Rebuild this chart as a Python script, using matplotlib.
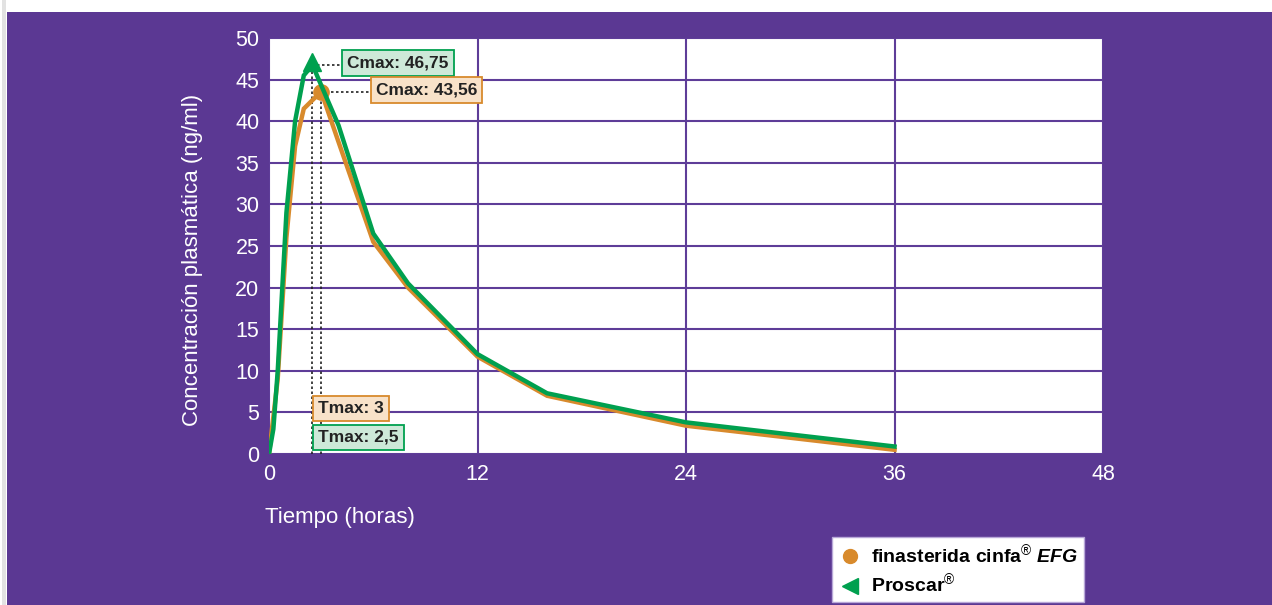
import matplotlib
matplotlib.use('Agg')
import matplotlib.pyplot as plt
from matplotlib.lines import Line2D

plt.rcParams['font.family'] = ['Liberation Sans', 'DejaVu Sans']
plt.rcParams['mathtext.fontset'] = 'custom'
plt.rcParams['mathtext.rm'] = 'Liberation Sans'
plt.rcParams['mathtext.it'] = 'Liberation Sans:italic:bold'

# datos (horas, ng/ml)
t_cinfa = [0, 0.5, 1, 1.5, 2, 3, 4, 6, 8, 12, 16, 24, 36]
c_cinfa = [0, 9, 26, 37, 41.5, 43.56, 37.5, 25.5, 20, 11.7, 7, 3.4, 0.5]
t_proscar = [0, 0.25, 0.5, 1, 1.5, 2, 2.5, 4, 6, 8, 12, 16, 24, 36]
c_proscar = [0, 3, 10, 29, 40, 45.5, 46.75, 39.5, 26.5, 20.5, 12, 7.3, 3.8, 0.9]

tmax_cinfa, cmax_cinfa = 3, 43.56
tmax_proscar, cmax_proscar = 2.5, 46.75

x_ticks = [0, 12, 24, 36, 48]
y_ticks = [0, 5, 10, 15, 20, 25, 30, 35, 40, 45, 50]

purple = '#5b3893'
orange = '#d88a2c'
green = '#00a04f'

fig = plt.figure(figsize=(12.72, 6.05), dpi=100)
fig.patch.set_facecolor('white')
fig.add_artist(plt.Rectangle((7 / 1272, 0), 1, 1 - 12 / 605, transform=fig.transFigure,
                             facecolor=purple, edgecolor='none', zorder=-10))
fig.add_artist(plt.Rectangle((2 / 1272, 0), 4 / 1272, 1, transform=fig.transFigure,
                             facecolor='#e2e2e2', edgecolor='none', zorder=-10))

ax = fig.add_axes([0.2115, 0.2496, 0.6557, 0.6876])
ax.set_facecolor('white')
ax.set_xlim(0, 48)
ax.set_ylim(0, 50)
ax.set_xticks(x_ticks)
ax.set_yticks(y_ticks)
for s in ax.spines.values():
    s.set_visible(False)
ax.tick_params(length=0, colors='white', labelsize=15.5, pad=7)
ax.grid(True, color='#5e3d98', linewidth=1.5)
ax.set_axisbelow(True)

# dotted guides
dot = dict(ls=(0, (1.5, 1.5)), color='#222222', lw=1.2, zorder=2)
ax.plot([tmax_proscar, tmax_proscar], [0, cmax_proscar], **dot)
ax.plot([tmax_cinfa, tmax_cinfa], [0, cmax_cinfa], **dot)
ax.plot([tmax_proscar, 4.2], [cmax_proscar, cmax_proscar], **dot)
ax.plot([tmax_cinfa, 5.9], [cmax_cinfa, cmax_cinfa], **dot)

ax.plot(t_cinfa, c_cinfa, color=orange, lw=3.2, zorder=3, solid_joinstyle='miter')
ax.plot([tmax_cinfa], [cmax_cinfa], marker='o', ms=11, color=orange, zorder=4)
ax.plot(t_proscar, c_proscar, color=green, lw=3.2, zorder=5, solid_joinstyle='miter')
ax.plot([tmax_proscar], [cmax_proscar + 0.4], marker='^', ms=13, color=green, zorder=6)

box_kw = dict(fontsize=12.5, fontweight='bold', color='#222222', va='center', ha='left', zorder=7)
ax.text(4.5, 47.0, 'Cmax: 46,75', bbox=dict(boxstyle='square,pad=0.3', fc='#cde9d8', ec=green, lw=1.3), **box_kw)
ax.text(6.15, 43.75, 'Cmax: 43,56', bbox=dict(boxstyle='square,pad=0.3', fc='#f8e2c9', ec=orange, lw=1.3), **box_kw)
ax.text(2.82, 5.5, 'Tmax: 3', bbox=dict(boxstyle='square,pad=0.3', fc='#f8e2c9', ec=orange, lw=1.3), **box_kw)
ax.text(2.82, 2.0, 'Tmax: 2,5', bbox=dict(boxstyle='square,pad=0.3', fc='#cde9d8', ec=green, lw=1.3), **box_kw)

ax.set_ylabel('Concentración plasmática (ng/ml)', color='white', fontsize=16)
ax.yaxis.set_label_coords(-0.079, 0.466)
fig.text(265 / 1272, 1 - 518 / 605, 'Tiempo (horas)', color='white', fontsize=16, ha='left', va='center')

handles = [Line2D([], [], ls='none', marker='o', ms=10, color=orange),
           Line2D([], [], ls='none', marker='<', ms=11, color=green)]
labels = [r'finasterida cinfa$^{\mathrm{®}}$ $\mathit{EFG}$', r'Proscar$^{\mathrm{®}}$']
leg = fig.legend(handles, labels, loc='upper left', bbox_to_anchor=(832 / 1272, 1 - 537 / 605),
                 frameon=True, fancybox=False, edgecolor='#b8a8d8', facecolor='white', framealpha=1,
                 prop={'weight': 'bold', 'size': 14}, handletextpad=0.5, borderpad=0.3,
                 labelspacing=0.3, handlelength=1.2, borderaxespad=0)
leg.get_frame().set_linewidth(1)
leg._legend_box.align = 'left'
fig.canvas.draw()
bb = leg.get_frame()
bb.set_width(bb.get_width() + 12)

fig.savefig('out.png', dpi=100, facecolor=fig.get_facecolor())
